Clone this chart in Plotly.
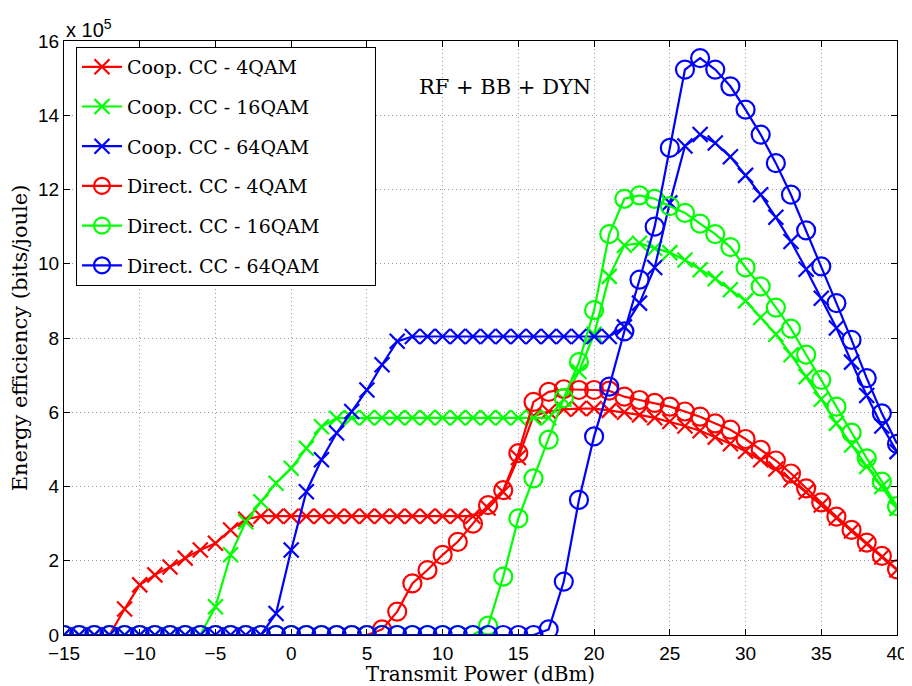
import plotly.graph_objects as go

# Transmit power (dBm): -15 .. 40
x_power = list(range(-15, 41))

# Energy efficiency values in units of 1e5 bits/joule
# rows: x=-15..-6 | -5..4 | 5..14 | 15..24 | 25..34 | 35..40
coop_4qam = [0, 0, 0, 0, 0.7, 1.35, 1.62, 1.83, 2.07, 2.29,
             2.47, 2.83, 3.12, 3.2, 3.2, 3.2, 3.2, 3.2, 3.2, 3.2,
             3.2, 3.2, 3.2, 3.2, 3.2, 3.2, 3.2, 3.2, 3.42, 3.85,
             4.78, 5.9, 6.02, 6.08, 6.1, 6.1, 6.05, 6.0, 5.93, 5.85,
             5.75, 5.63, 5.5, 5.33, 5.15, 4.95, 4.72, 4.47, 4.18, 3.85,
             3.5, 3.15, 2.8, 2.45, 2.1, 1.75]

coop_16qam = [0, 0, 0, 0, 0, 0, 0, 0, 0, 0,
              0.76, 2.16, 3.05, 3.59, 4.09, 4.49, 5.03, 5.61, 5.84, 5.85,
              5.85, 5.85, 5.85, 5.85, 5.85, 5.85, 5.85, 5.85, 5.85, 5.85,
              5.85, 5.85, 5.85, 6.35, 7.1, 8.1, 9.66, 10.5, 10.55, 10.42,
              10.3, 10.1, 9.84, 9.6, 9.3, 9.0, 8.55, 8.1, 7.55, 6.96,
              6.35, 5.7, 5.12, 4.54, 4.0, 3.41]

coop_64qam = [0, 0, 0, 0, 0, 0, 0, 0, 0, 0,
              0, 0, 0, 0, 0.58, 2.29, 3.86, 4.72, 5.44, 6.02,
              6.6, 7.28, 7.91, 8.04, 8.04, 8.04, 8.04, 8.04, 8.04, 8.04,
              8.04, 8.04, 8.04, 8.04, 8.04, 8.04, 8.04, 8.3, 8.94, 9.9,
              11.64, 13.17, 13.48, 13.25, 12.88, 12.38, 11.86, 11.25, 10.6, 9.85,
              9.07, 8.27, 7.35, 6.45, 5.63, 4.94]

direct_4qam = [0, 0, 0, 0, 0, 0, 0, 0, 0, 0,
               0, 0, 0, 0, 0, 0, 0, 0, 0, 0,
               0, 0.15, 0.63, 1.39, 1.75, 2.16, 2.51, 3.0, 3.5, 3.9,
               4.9, 6.28, 6.55, 6.62, 6.6, 6.6, 6.58, 6.42, 6.33, 6.25,
               6.15, 6.02, 5.88, 5.7, 5.53, 5.28, 4.99, 4.7, 4.35, 3.95,
               3.57, 3.19, 2.83, 2.49, 2.13, 1.77]

direct_16qam = [0, 0, 0, 0, 0, 0, 0, 0, 0, 0,
                0, 0, 0, 0, 0, 0, 0, 0, 0, 0,
                0, 0, 0, 0, 0, 0, 0, 0, 0.25, 1.57,
                3.14, 4.22, 5.26, 6.38, 7.35, 8.75, 10.8, 11.75, 11.84, 11.75,
                11.55, 11.37, 11.08, 10.8, 10.45, 9.9, 9.39, 8.82, 8.25, 7.55,
                6.87, 6.15, 5.45, 4.76, 4.13, 3.47]

direct_64qam = [0, 0, 0, 0, 0, 0, 0, 0, 0, 0,
                0, 0, 0, 0, 0, 0, 0, 0, 0, 0,
                0, 0, 0, 0, 0, 0, 0, 0, 0, 0,
                0, 0, 0.15, 1.44, 3.64, 5.35, 6.69, 8.18, 9.57, 11.0,
                13.12, 15.23, 15.54, 15.23, 14.78, 14.15, 13.48, 12.71, 11.86, 10.9,
                9.93, 8.94, 7.95, 6.92, 5.97, 5.15]

legend_names = ["Coop. CC - 4QAM", "Coop. CC - 16QAM", "Coop. CC - 64QAM",
                "Direct. CC - 4QAM", "Direct. CC - 16QAM", "Direct. CC - 64QAM"]

series_values = [coop_4qam, coop_16qam, coop_64qam, direct_4qam, direct_16qam, direct_64qam]
colors = ["#FF0000", "#00FF00", "#0000FF", "#FF0000", "#00FF00", "#0000FF"]
symbols = ["x-thin-open"] * 3 + ["circle-open"] * 3

for v in series_values:
    assert len(v) == len(x_power), len(v)

max_len = max(len(n) for n in legend_names)

fig = go.Figure()
for i, (name, vals, color, sym) in enumerate(zip(legend_names, series_values, colors, symbols)):
    size = 15 if sym.startswith("x") else 18
    pad = "\u00a0" * (max_len - len(name) + 8)
    fig.add_trace(go.Scatter(
        x=x_power, y=vals, name=name + pad, mode="lines+markers",
        legendgroup=f"g{i}",
        line=dict(color=color, width=2.2),
        marker=dict(symbol=sym, size=size, color=color,
                    line=dict(color=color, width=2.2)),
    ))

serif = "DejaVu Serif, Liberation Serif, serif"
sans = "Liberation Sans, Arial, sans-serif"

fig.update_layout(
    width=904, height=678,
    margin=dict(l=56, r=15, t=33, b=51),
    paper_bgcolor="white", plot_bgcolor="white",
    showlegend=True,
    legend=dict(
        x=0.0144, y=0.99, xanchor="left", yanchor="top",
        bgcolor="white", bordercolor="black", borderwidth=1,
        font=dict(family=serif, size=19, color="black"),
        tracegroupgap=12, itemwidth=40,
    ),
    annotations=[
        dict(text="RF + BB + DYN", x=14.1, y=14.77, xref="x", yref="y",
             showarrow=False, font=dict(family=serif, size=21, color="black")),
        dict(text="x 10<sup>5</sup>", x=0.0, y=1.0, xref="paper", yref="paper",
             xanchor="left", yanchor="bottom", showarrow=False, yshift=-2, xshift=0,
             font=dict(family=sans, size=20, color="black")),
    ],
)

fig.update_xaxes(
    range=[-15, 40], tickvals=list(range(-15, 41, 5)), automargin=False,
    ticks="inside", ticklen=6, tickcolor="black", mirror="allticks",
    showline=True, linecolor="black", linewidth=1.2,
    showgrid=True, gridcolor="#9a9a9a", griddash="1px,3px", gridwidth=1,
    zeroline=False, ticklabelstandoff=1,
    tickfont=dict(family=sans, size=19, color="black"),
    title=dict(text="Transmit Power (dBm)", font=dict(family=serif, size=20, color="black"),
               standoff=3),
)
fig.update_yaxes(
    range=[0, 16], tickvals=list(range(0, 17, 2)), automargin=False,
    ticks="inside", ticklen=6, tickcolor="black", mirror="allticks",
    showline=True, linecolor="black", linewidth=1.2,
    showgrid=True, gridcolor="#9a9a9a", griddash="1px,3px", gridwidth=1,
    zeroline=False,
    tickfont=dict(family=sans, size=19, color="black"),
    title=dict(text="Energy efficiency (bits/joule)", font=dict(family=serif, size=21, color="black"),
               standoff=6),
)

fig.write_html("out.html")
